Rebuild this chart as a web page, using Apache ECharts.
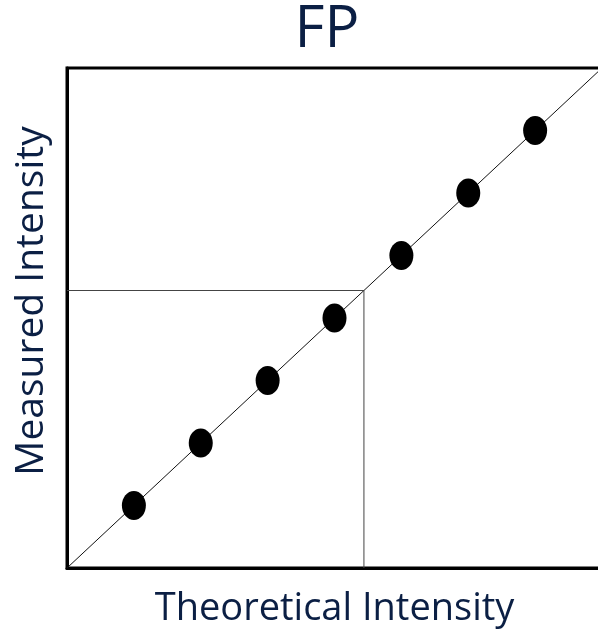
<!DOCTYPE html>
<html>
<head>
<meta charset="utf-8">
<script src="https://cdn.jsdelivr.net/npm/echarts@6/dist/echarts.min.js"></script>
<style>
  html, body { margin: 0; padding: 0; background: #fff; }
  #chart { width: 598px; height: 630px; }
</style>
</head>
<body>
<div id="chart"></div>
<script>
// Calibration points: theoretical vs measured intensity
const theoretical = [1, 2, 3, 4, 5, 6, 7];
const measured = [1, 2, 3, 4, 5, 6, 7];
// Identity reference line endpoints
const identityLine = [[0, 0], [8, 8]];
// Guide marking one reading on both axes
const guideValue = 4.44;
const axisMax = 8;

const navy = '#0b1f44';
const font = '"Open Sans", "Noto Sans", sans-serif';

const chart = echarts.init(document.getElementById('chart'), null, { renderer: 'canvas' });

chart.setOption({
  animation: false,
  backgroundColor: '#fff',
  title: {
    text: 'FP',
    left: 322,
    textAlign: 'center',
    top: -4,
    textStyle: { color: navy, fontSize: 58, fontWeight: 'normal', fontFamily: font }
  },
  grid: {
    left: 67, top: 68, width: 535, height: 500,
    outerBoundsMode: 'none',
    show: true, borderColor: '#000', borderWidth: 3, backgroundColor: 'transparent'
  },
  xAxis: {
    type: 'value', min: 0, max: axisMax,
    name: 'Theoretical Intensity', nameLocation: 'middle', nameGap: 22,
    nameTextStyle: { color: navy, fontSize: 38, fontFamily: font },
    axisLine: { show: true, onZero: false, lineStyle: { color: '#000', width: 3 } },
    axisTick: { show: false }, axisLabel: { show: false }, splitLine: { show: false }
  },
  yAxis: {
    type: 'value', min: 0, max: axisMax,
    name: 'Measured Intensity', nameLocation: 'middle', nameGap: 16,
    nameTextStyle: { color: navy, fontSize: 39, fontFamily: font, padding: [0, 0, 0, 34] },
    axisLine: { show: true, onZero: false, lineStyle: { color: '#000', width: 3 } },
    axisTick: { show: false }, axisLabel: { show: false }, splitLine: { show: false }
  },
  series: [
    {
      type: 'line', data: identityLine, symbol: 'none', silent: true,
      lineStyle: { color: '#111', width: 1 }, z: 1
    },
    {
      type: 'line',
      data: [[0, guideValue], [guideValue, guideValue], [guideValue, 0]],
      symbol: 'none', silent: true,
      lineStyle: { color: '#444', width: 1 }, z: 1
    },
    {
      type: 'scatter',
      data: theoretical.map((t, i) => [t, measured[i]]),
      symbol: 'circle', symbolSize: [24, 29],
      itemStyle: { color: '#000', opacity: 1 }, z: 3
    }
  ]
});
</script>
</body>
</html>
